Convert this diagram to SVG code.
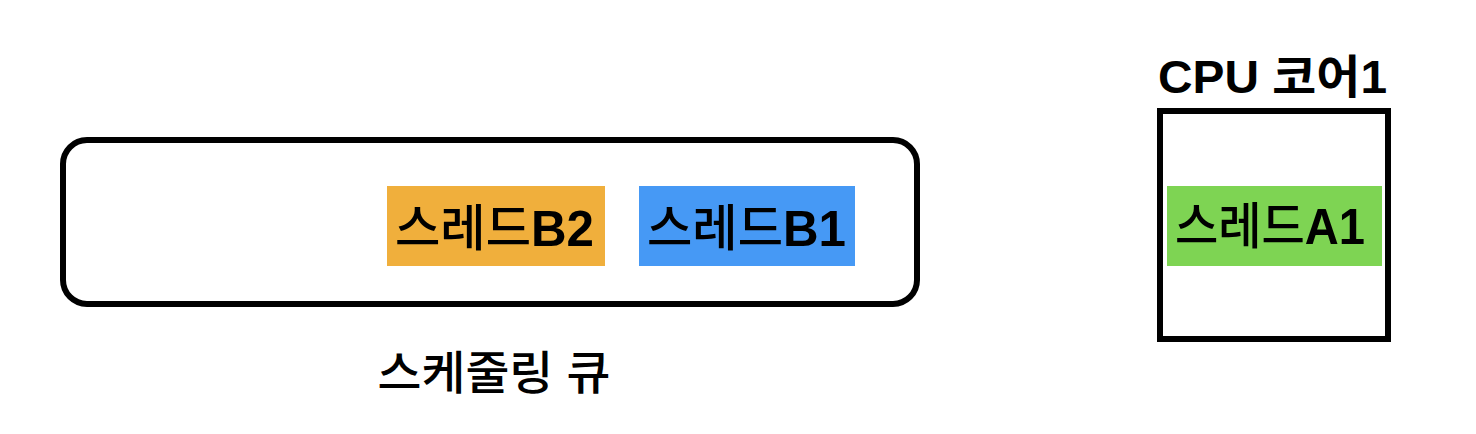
<svg xmlns="http://www.w3.org/2000/svg" width="1476" height="434" viewBox="0 0 1476 434">
<style>
.t{font-family:"Liberation Sans","Noto Sans CJK KR",sans-serif;fill:#000}
.lbl{font-size:50px;font-weight:500}
.lat{font-weight:bold}
.cap{font-size:46px;font-weight:500}
.head{font-size:46px;font-weight:bold}
.box{fill:none;stroke:#000;stroke-width:6}
</style>
<rect width="1476" height="434" fill="#fff"/>
<g id="queue">
<rect class="box" x="63" y="140" width="854" height="164" rx="24" ry="24"/>
</g>
<g id="queue-label">
<text class="t cap" x="494" y="389" text-anchor="middle" textLength="233" lengthAdjust="spacingAndGlyphs">스케줄링 큐</text>
</g>
<g id="threadB2">
<rect x="387" y="186" width="218" height="80" fill="#F0AF3C"/>
<text class="t lbl" x="395" y="246" textLength="199" lengthAdjust="spacingAndGlyphs">스레드<tspan class="lat">B2</tspan></text>
</g>
<g id="threadB1">
<rect x="639" y="186" width="216" height="80" fill="#4699F5"/>
<text class="t lbl" x="647" y="246" textLength="199" lengthAdjust="spacingAndGlyphs">스레드<tspan class="lat">B1</tspan></text>
</g>
<g id="cpu">
<rect class="box" x="1160" y="111" width="228" height="228"/>
<text class="t head" x="1158" y="93" textLength="229" lengthAdjust="spacingAndGlyphs">CPU 코어1</text>
</g>
<g id="threadA1">
<rect x="1167" y="186" width="215" height="80" fill="#7ED453"/>
<text class="t lbl" x="1175" y="244" textLength="190" lengthAdjust="spacingAndGlyphs">스레드<tspan class="lat">A1</tspan></text>
</g>
<g id="connectors"></g>
</svg>
